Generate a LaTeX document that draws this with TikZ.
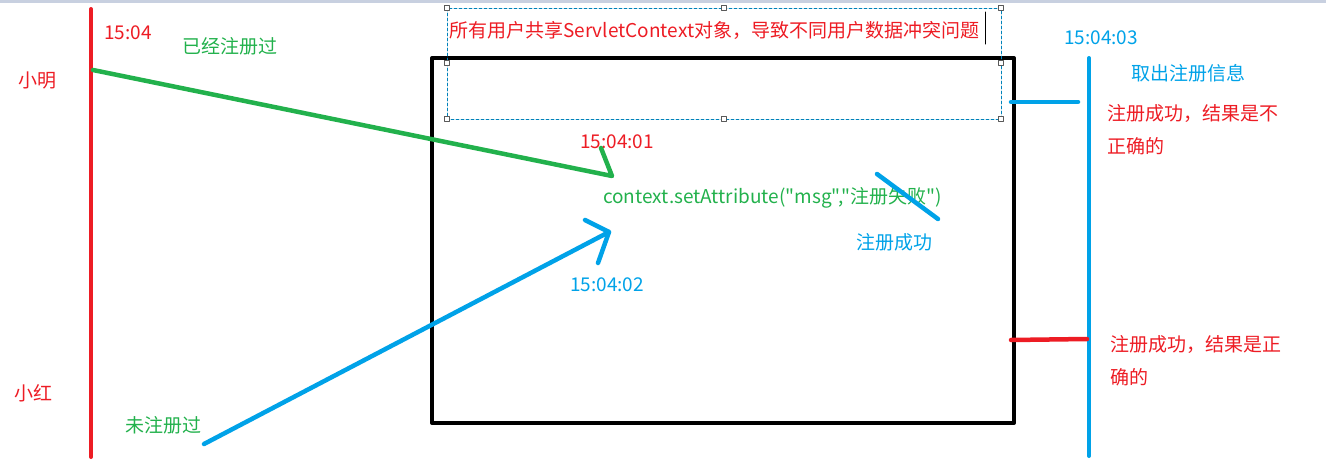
\documentclass[tikz,border=0pt]{standalone}
\usepackage{fontspec}
\newfontfamily\yahei{Noto Sans CJK SC}
\definecolor{pred}{HTML}{ED1C24}
\definecolor{pgreen}{HTML}{22B14C}
\definecolor{pblue}{HTML}{00A2E8}
\definecolor{band}{HTML}{C8D0E0}

\begin{document}
\begin{tikzpicture}[x=1pt,y=-1pt,line cap=round,line join=round,
  lbl/.style={anchor=west,inner sep=0pt,font=\yahei\fontsize{19}{33}\selectfont},
  pen/.style={line width=4.5pt}]
\useasboundingbox (0,0) rectangle (1326,466);
\fill[band] (0,0) rectangle (1326,3);
% time lines
\draw[line width=4pt,pred] (91,9)--(91,457);
\draw[line width=4pt,pblue] (1089,58)--(1089,456);
\draw[line width=4pt,line cap=butt] (432,58) rectangle (1014,423);
% selection frame round the title
\draw[pblue!80!black,dashed,line width=0.7pt,dash pattern=on 3pt off 2pt] (447,8) rectangle (1001,119);
\foreach \x/\y in {447/8,724/8,1001/8,447/63,1001/63,447/119,724/119,1001/119}
  \filldraw[draw=gray!70!black,fill=white,line width=0.8pt] (\x-2.5,\y-2.5) rectangle (\x+2.5,\y+2.5);
\node[lbl,pred] (title) at (449,30) {所有用户共享ServletContext对象，导致不同用户数据冲突问题};
\draw[line width=1pt] (985,12)--(985,44);
% names and times
\node[lbl,pred] (ming) at (18,80) {小明};
\node[lbl,pred] (hong) at (14,393) {小红};
\node[lbl,pred] (t0) at (104,33) {15:04};
\node[lbl,pgreen] (done) at (182,46) {已经注册过};
\node[lbl,pgreen] (notyet) at (125,425) {未注册过};
\node[lbl,pred] (t1) at (580,142) {15:04:01};
\node[lbl,pblue] (t2) at (570,285) {15:04:02};
\node[lbl,pblue] (t3) at (1064,38) {15:04:03};
\node[lbl,pgreen] (set) at (603,198) {context.setAttribute("msg","注册失败")};
\node[lbl,pblue] (ok) at (856,242) {注册成功};
\node[lbl,pblue] (fetch) at (1131,73) {取出注册信息};
\node[lbl,pred,align=left,anchor=north west] (bad) at (1107,104)
  {注册成功，结果是不\\正确的};
\node[lbl,pred,align=left,anchor=north west] (good) at (1110,335)
  {注册成功，结果是正\\确的};
% requests
\coordinate (mingStart) at (93,70);
\coordinate (greenTip) at (612,176);
\coordinate (hongStart) at (204,444);
\coordinate (blueTip) at (609,232);
\draw[pen,pgreen] (mingStart)--(greenTip)--(601,148);
\draw[pen,pblue] (hongStart)--(blueTip);
\draw[pen,pblue] (585,220)--(blueTip)--(598,263);
\draw[pen,pblue] (877,174)--(938,219);
% reads
\draw[pen,pblue] (1011,102)--(1078,102);
\draw[pen,pred] (1011,340)--(1087,339);
\end{tikzpicture}
\end{document}
